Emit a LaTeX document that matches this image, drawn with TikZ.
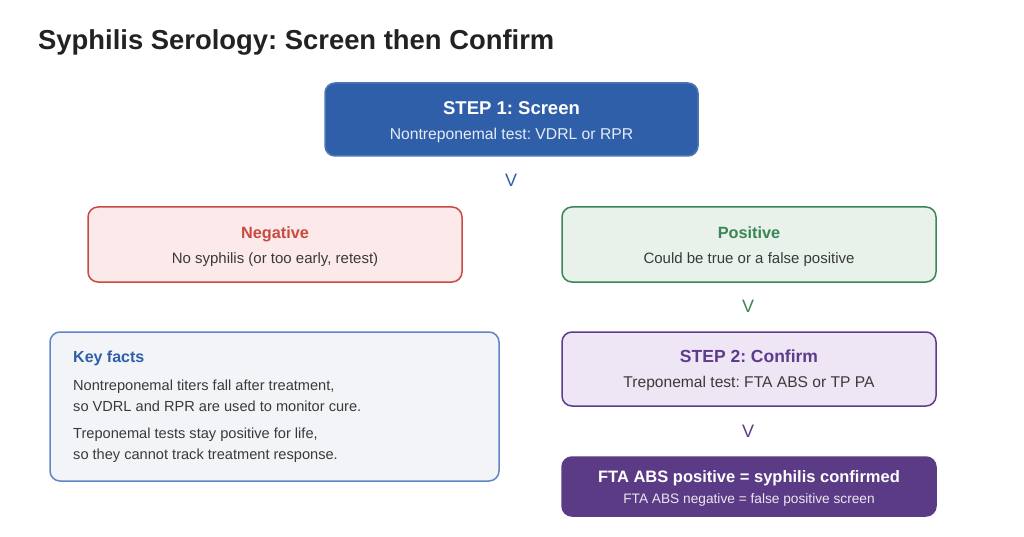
\documentclass[tikz,border=0pt]{standalone}
\usepackage{fontspec}
\setmainfont{Liberation Sans}
\frenchspacing
\definecolor{titlec}{HTML}{222222}
\definecolor{textc}{HTML}{3A3A3A}
\definecolor{bluef}{HTML}{2F5FA8}
\definecolor{bluet}{HTML}{2F5FA8}
\definecolor{redd}{HTML}{C84A40}
\definecolor{redf}{HTML}{FBEAE9}
\definecolor{greend}{HTML}{3A8656}
\definecolor{greenf}{HTML}{E8F2EA}
\definecolor{keyd}{HTML}{5F86C6}
\definecolor{keyf}{HTML}{F2F4F8}
\definecolor{purd}{HTML}{5E3B8C}
\definecolor{purf}{HTML}{EEE6F4}
\definecolor{purdark}{HTML}{5B3A86}
\definecolor{subw}{HTML}{E6ECF6}
\begin{document}
\begin{tikzpicture}[x=1pt,y=-1pt,
  box/.style={rounded corners=10pt, line width=1.5pt, inner sep=0pt},
  ttl/.style={anchor=base, inner sep=0pt, font=\fontsize{16.3}{20}\selectfont\bfseries},
  sub/.style={anchor=base, inner sep=0pt, font=\fontsize{15}{18}\selectfont, text=textc},
  vmark/.style={anchor=base, inner sep=0pt, font=\fontsize{18}{20}\selectfont},
  fact/.style={anchor=base west, inner sep=0pt, font=\fontsize{14.6}{18}\selectfont, text=textc}]
\useasboundingbox[fill=white] (0,0) rectangle (1024,537);
\node[anchor=base west, font=\fontsize{27.4}{30}\selectfont\bfseries, text=titlec, inner sep=0pt] (title) at (38,50) {Syphilis Serology: Screen then Confirm};
% step 1
\path[box, fill=bluef, draw=bluef!85!white] (325,83) rectangle (698,156);
\node[ttl, text=white, font=\fontsize{18.5}{22}\selectfont\bfseries] (s1t) at (511.5,115) {STEP 1: Screen};
\node[sub, text=subw, font=\fontsize{15.7}{18}\selectfont] (s1s) at (511.5,140) {Nontreponemal test: VDRL or RPR};
\node[vmark, text=bluet] (v1) at (511,187) {V};
% negative
\path[box, fill=redf, draw=redd] (88,207) rectangle (462,282);
\node[ttl, text=redd] (negt) at (275,238) {Negative};
\node[sub] (negs) at (275,263) {No syphilis (or too early, retest)};
% positive
\path[box, fill=greenf, draw=greend] (562,207) rectangle (936,282);
\node[ttl, text=greend] (post) at (749,238) {Positive};
\node[sub] (poss) at (749,263) {Could be true or a false positive};
\node[vmark, text=greend] (v2) at (748,312) {V};
% key facts
\path[box, fill=keyf, draw=keyd] (50,332) rectangle (499,481);
\node[anchor=base west, inner sep=0pt, font=\fontsize{16}{18}\selectfont\bfseries, text=bluet] (kft) at (73,362) {Key facts};
\node[fact] (kf1) at (73,390) {Nontreponemal titers fall after treatment,};
\node[fact] (kf2) at (73,411) {so VDRL and RPR are used to monitor cure.};
\node[fact] (kf3) at (73,438) {Treponemal tests stay positive for life,};
\node[fact] (kf4) at (73,459) {so they cannot track treatment response.};
% step 2
\path[box, fill=purf, draw=purd] (562,332) rectangle (936,406);
\node[ttl, text=purd, font=\fontsize{17.5}{22}\selectfont\bfseries] (s2t) at (749,362) {STEP 2: Confirm};
\node[sub, font=\fontsize{15.6}{18}\selectfont] (s2s) at (749,387) {Treponemal test: FTA ABS or TP PA};
\node[vmark, text=purd] (v3) at (748,437) {V};
% final
\path[box, fill=purdark, draw=purdark] (562,457) rectangle (936,516);
\node[ttl, text=white, font=\fontsize{16.5}{20}\selectfont\bfseries] (fint) at (749,482) {FTA ABS positive = syphilis confirmed};
\node[sub, text=white!88!purdark, font=\fontsize{13.7}{16}\selectfont] (fins) at (749,503) {FTA ABS negative = false positive screen};
\end{tikzpicture}
\end{document}
